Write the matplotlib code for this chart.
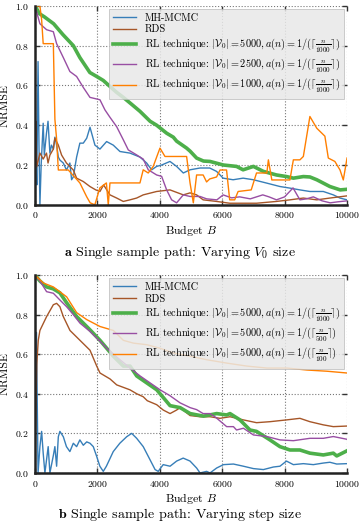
import matplotlib
matplotlib.use("Agg")
import matplotlib.pyplot as plt

plt.rcParams['font.family'] = 'serif'
plt.rcParams['font.serif'] = ['cmr10', 'DejaVu Serif']
plt.rcParams['mathtext.fontset'] = 'cm'
plt.rcParams['axes.formatter.use_mathtext'] = True
plt.rcParams['axes.unicode_minus'] = False

# colours (ColorBrewer Set1-ish)
c_blue = '#377eb8'
c_brown = '#a65628'
c_green = '#4daf4a'
c_purple = '#984ea3'
c_orange = '#ff7f00'

# ---------------- panel a: varying V0 size ----------------
a_mh_x = [0, 30, 60, 100, 130, 160, 200, 265, 300, 370, 420, 480, 530, 590, 640, 695, 750, 800, 910, 1010,
          1120, 1175, 1230, 1336, 1440, 1550, 1660, 1765, 1923, 2083, 2297, 2510, 2724, 3045, 3365, 3580,
          3740, 3900, 4060, 4327, 4540, 4754, 4970, 5290, 5600, 5820, 6030, 6350, 6670,
          7000, 7430, 7850, 8170, 8490, 8810, 9240, 9560, 9775, 10000]
a_mh_y = [0.0, 0.31, 0.1, 0.72, 0.3, 0.0, 0.2, 0.41, 0.25, 0.36, 0.42, 0.26, 0.3, 0.28, 0.34, 0.30, 0.24,
          0.225, 0.21, 0.175, 0.21, 0.126, 0.14, 0.24, 0.31, 0.31, 0.335, 0.39, 0.30, 0.28, 0.318, 0.30,
          0.268, 0.26, 0.24, 0.21, 0.176, 0.193, 0.20, 0.218, 0.193, 0.16, 0.176, 0.185, 0.185,
          0.168, 0.134, 0.126, 0.134, 0.126, 0.109, 0.092, 0.084, 0.075, 0.067, 0.067, 0.05, 0.034, 0.025]

a_rds_x = [0, 30, 55, 160, 265, 370, 420, 480, 590, 640, 750, 855, 1010, 1230, 1336, 1550, 1763, 1950, 2083,
           2200, 2404, 2620, 2831, 3045, 3258, 3470, 3900, 4327, 4754, 4970, 5180, 5390, 5820, 6240, 7100, 7740,
           8170, 8600, 9030, 9450, 10000]
a_rds_y = [0.0, 0.42, 0.19, 0.26, 0.23, 0.26, 0.21, 0.25, 0.28, 0.335, 0.30, 0.25, 0.21, 0.175, 0.134, 0.117,
           0.092, 0.075, 0.067, 0.10, 0.05, 0.034, 0.017, 0.025, 0.034, 0.05, 0.067, 0.075, 0.05, 0.06, 0.05,
           0.025, 0.017, 0.008, 0.008, 0.017, 0.025, 0.034, 0.025, 0.034, 0.045]

a_rl5000_x = [0, 150, 300, 600, 900, 1230, 1440, 1760, 1980, 2190, 2297, 2620, 2831, 3100, 3365, 3690,
              3900, 4220, 4434, 4540, 4860, 4970, 5180, 5400, 5610, 6040, 6460, 6670, 7000, 7320, 7740, 8060,
              8280, 8600, 8810, 9030, 9450, 9780, 10000]
a_rl5000_y = [1.0, 0.96, 0.945, 0.91, 0.855, 0.80, 0.74, 0.665, 0.645, 0.625, 0.61, 0.565, 0.54, 0.505, 0.47,
              0.42, 0.40, 0.36, 0.34, 0.32, 0.285, 0.27, 0.235, 0.22, 0.218, 0.20, 0.193, 0.176, 0.193, 0.168,
              0.15, 0.142, 0.134, 0.142, 0.14, 0.126, 0.092, 0.075, 0.078]

a_rl2500_x = [0, 160, 375, 590, 695, 910, 1120, 1336, 1550, 1763, 2083, 2244, 2404, 2618, 2831, 2991, 3258,
              3365, 3470, 3632, 3900, 4060, 4220, 4380, 4540, 4754, 4970, 5290, 5500, 5830, 6030, 6300, 6560,
              6900, 7300, 7500, 7740, 8000, 8270, 8490, 8700, 8920, 9200, 9460, 9700, 10000]
a_rl2500_y = [1.0, 0.91, 0.88, 0.87, 0.81, 0.74, 0.67, 0.645, 0.59, 0.54, 0.528, 0.477, 0.44, 0.393, 0.327,
              0.276, 0.251, 0.24, 0.23, 0.176, 0.15, 0.143, 0.075, 0.025, 0.01, 0.05, 0.042, 0.042, 0.03,
              0.025, 0.05, 0.035, 0.04, 0.03, 0.05, 0.04, 0.025, 0.04, 0.085, 0.025, 0.03, 0.04, 0.02, 0.01,
              0.015, 0.02]

a_rl1000_x = [0, 160, 215, 265, 590, 640, 695, 750, 1070, 1440, 1660, 1770, 1920, 2080, 2290, 2350, 2404,
              2724, 3365, 3470, 3630, 3790, 4006, 4167, 4860, 4970, 5075, 5180, 5390, 5500, 5600, 5820, 5930,
              6140, 6240, 6400, 6510, 6930, 7100, 7430, 7480, 7590, 8170, 8280, 8490, 8600, 8810, 9030, 9290,
              9400, 9610, 9775, 9880, 10000]
a_rl1000_y = [1.0, 1.0, 0.93, 0.81, 0.81, 0.43, 0.33, 0.175, 0.175, 0.11, 0.04, 0.01, 0.0, 0.085, 0.11, 0.0,
              0.11, 0.11, 0.11, 0.176, 0.16, 0.193, 0.285, 0.243, 0.243, 0.11, 0.01, 0.15, 0.15, 0.115, 0.13,
              0.14, 0.175, 0.175, 0.025, 0.025, 0.067, 0.075, 0.16, 0.16, 0.226, 0.125, 0.125, 0.226, 0.226,
              0.243, 0.444, 0.385, 0.345, 0.235, 0.218, 0.175, 0.125, 0.235]

# ---------------- panel b: varying step size ----------------
b_mh_x = [0, 50, 100, 160, 215, 265, 320, 425, 480, 590, 640, 695, 750, 800, 910, 1010, 1120, 1230, 1336, 1440,
          1550, 1660, 1765, 1870, 1980, 2080, 2190, 2290, 2510, 2720, 2940, 3100, 3260, 3470, 3690, 3850, 3950,
          4110, 4330, 4540, 4750, 4970, 5180, 5290, 5500, 5610, 5823, 6040, 6360, 6680, 7000, 7320, 7640, 7850,
          8060, 8280, 8600, 8920, 9240, 9450, 9670, 10000]
b_mh_y = [0.0, 0.71, 0.0, 0.133, 0.21, 0.10, 0.0, 0.133, 0.0, 0.088, 0.133, 0.034, 0.183, 0.21, 0.183, 0.133,
          0.108, 0.15, 0.133, 0.167, 0.14, 0.157, 0.15, 0.133, 0.083, 0.034, 0.008, 0.034, 0.108, 0.15, 0.183,
          0.20, 0.175, 0.133, 0.066, 0.017, 0.008, 0.042, 0.034, 0.06, 0.075, 0.06, 0.025, 0.0, 0.008, 0.0,
          0.025, 0.042, 0.045, 0.034, 0.022, 0.017, 0.03, 0.034, 0.06, 0.042, 0.047, 0.042, 0.05, 0.054, 0.045,
          0.047]

b_rds_x = [0, 30, 60, 107, 160, 374, 590, 695, 800, 910, 1123, 1444, 1765, 1980, 2085, 2406, 2620, 3045, 3262,
           3470, 3600, 3900, 4110, 4330, 4540, 4650, 4970, 5290, 5610, 5930, 6250, 6680, 7100, 7530, 8060, 8490,
           8810, 9240, 9560, 10000]
b_rds_y = [0.0, 0.3, 0.55, 0.67, 0.72, 0.79, 0.85, 0.857, 0.84, 0.79, 0.72, 0.67, 0.62, 0.54, 0.505, 0.475,
           0.445, 0.42, 0.40, 0.385, 0.365, 0.345, 0.318, 0.30, 0.318, 0.33, 0.29, 0.284, 0.284, 0.276, 0.284,
           0.268, 0.254, 0.259, 0.268, 0.276, 0.259, 0.243, 0.234, 0.237]

b_rl1000_x = [0, 160, 374, 590, 800, 1016, 1337, 1550, 1765, 2085, 2300, 2513, 2834, 3048, 3262, 3583, 3904,
              4118, 4330, 4652, 4973, 5400, 5823, 6143, 6250, 6570, 6890, 7100, 7530, 7850, 8170, 8490, 8810,
              9240, 9560, 9670, 10000]
b_rl1000_y = [1.0, 0.97, 0.94, 0.93, 0.91, 0.86, 0.79, 0.757, 0.723, 0.67, 0.63, 0.59, 0.54, 0.54, 0.49,
              0.455, 0.42, 0.38, 0.34, 0.33, 0.30, 0.287, 0.30, 0.293, 0.30, 0.268, 0.217, 0.21, 0.167, 0.133,
              0.116, 0.116, 0.10, 0.091, 0.10, 0.086, 0.112]

b_rl500_x = [0, 160, 374, 590, 800, 1016, 1230, 1444, 1765, 2085, 2406, 2727, 3048, 3370, 3690, 4010, 4330,
             4652, 4973, 5180, 5390, 5610, 5800, 6143, 6360, 6460, 6680, 7000, 7430, 7850, 8280, 8810, 9240,
             9560, 10000]
b_rl500_y = [1.0, 0.97, 0.916, 0.908, 0.874, 0.84, 0.80, 0.757, 0.715, 0.665, 0.614, 0.572, 0.53, 0.49, 0.455,
             0.42, 0.39, 0.354, 0.33, 0.32, 0.30, 0.30, 0.28, 0.234, 0.234, 0.217, 0.226, 0.192, 0.184, 0.167,
             0.163, 0.175, 0.175, 0.184, 0.17]

b_rl100_x = [0, 267, 590, 1016, 1337, 1658, 2085, 2513, 2834, 3155, 3583, 4010, 4440, 4973, 5508, 6150, 6790,
             7433, 8075, 8717, 9358, 10000]
b_rl100_y = [1.0, 0.96, 0.94, 0.89, 0.81, 0.775, 0.74, 0.72, 0.67, 0.656, 0.648, 0.63, 0.606, 0.59, 0.572,
             0.555, 0.54, 0.53, 0.53, 0.52, 0.514, 0.505]

labels_a = ['MH-MCMC', 'RDS',
            r'RL technique: $|\mathcal{V}_0| = 5000, a(n) = 1/(\lceil \frac{n}{1000} \rceil)$',
            r'RL technique: $|\mathcal{V}_0| = 2500, a(n) = 1/(\lceil \frac{n}{1000} \rceil)$',
            r'RL technique: $|\mathcal{V}_0| = 1000, a(n) = 1/(\lceil \frac{n}{1000} \rceil)$']
labels_b = ['MH-MCMC', 'RDS',
            r'RL technique: $|\mathcal{V}_0| = 5000, a(n) = 1/(\lceil \frac{n}{1000} \rceil)$',
            r'RL technique: $|\mathcal{V}_0| = 5000, a(n) = 1/(\lceil \frac{n}{500} \rceil)$',
            r'RL technique: $|\mathcal{V}_0| = 5000, a(n) = 1/(\lceil \frac{n}{100} \rceil)$']

fig = plt.figure(figsize=(3.6, 5.32), dpi=100)
ax_a = fig.add_axes([0.097, 0.615, 0.867, 0.374])
ax_b = fig.add_axes([0.097, 0.111, 0.867, 0.372])


def style(ax, series, labels):
    colors = [c_blue, c_brown, c_green, c_purple, c_orange]
    widths = [1.0, 1.0, 2.6, 1.0, 1.0]
    for (x, y), lab, c, w in zip(series, labels, colors, widths):
        ax.plot(x, y, color=c, lw=w, label=lab)
    ax.set_xlim(0, 10000)
    ax.set_ylim(0, 1.0)
    ax.set_xticks([0, 2000, 4000, 6000, 8000, 10000])
    ax.set_yticks([0.0, 0.2, 0.4, 0.6, 0.8, 1.0])
    ax.grid(True, linestyle=':', color='#777777', lw=0.8)
    for s in ['top', 'right']:
        ax.spines[s].set_visible(False)
    for s in ['left', 'bottom']:
        ax.spines[s].set_linewidth(1.8)
        ax.spines[s].set_color('#222222')
    ax.tick_params(axis='both', which='both', direction='in', top=True, right=True,
                   length=3.5, width=1.0, labelsize=7, color='#333333', pad=4)
    ax.set_xlabel('Budget $B$', fontsize=8.5, labelpad=2)
    ax.set_ylabel('NRMSE', fontsize=8.5, labelpad=4)
    leg = ax.legend(loc='upper right', fontsize=7.4, frameon=True, fancybox=False,
                    handlelength=2.3, labelspacing=0.22, borderaxespad=0.3, borderpad=0.4,
                    handletextpad=0.8)
    leg.get_frame().set_facecolor('#e8e8e8')
    leg.get_frame().set_edgecolor('#bbbbbb')
    leg.get_frame().set_alpha(0.85)
    leg.get_frame().set_linewidth(0.6)


style(ax_a, [(a_mh_x, a_mh_y), (a_rds_x, a_rds_y), (a_rl5000_x, a_rl5000_y),
             (a_rl2500_x, a_rl2500_y), (a_rl1000_x, a_rl1000_y)], labels_a)
style(ax_b, [(b_mh_x, b_mh_y), (b_rds_x, b_rds_y), (b_rl1000_x, b_rl1000_y),
             (b_rl500_x, b_rl500_y), (b_rl100_x, b_rl100_y)], labels_b)

fig.text(0.5, 0.525, r'$\mathbf{a}$ Single sample path: Varying $V_0$ size', ha='center', va='center', fontsize=10.1)
fig.text(0.5, 0.032, r'$\mathbf{b}$ Single sample path: Varying step size', ha='center', va='center', fontsize=10.1)

fig.savefig('out.png', dpi=100)
